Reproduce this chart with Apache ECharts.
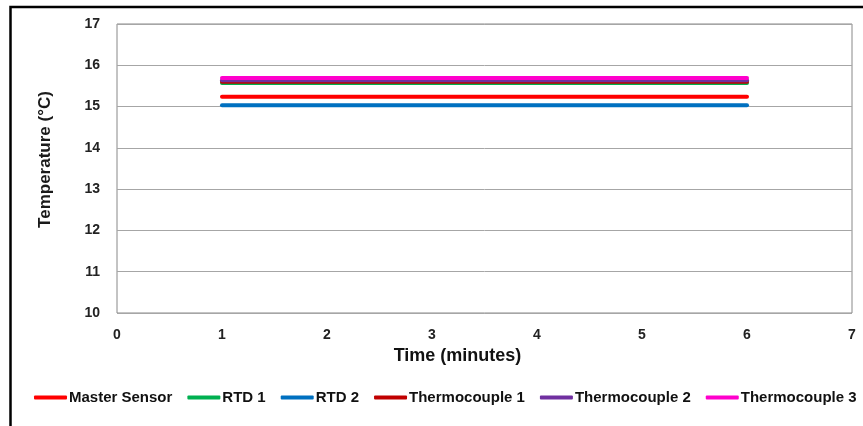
<!DOCTYPE html>
<html>
<head>
<meta charset="utf-8">
<script src="https://cdn.jsdelivr.net/npm/echarts@6/dist/echarts.min.js"></script>
<style>
  html, body { margin: 0; padding: 0; background: #fff; }
  #chart { width: 863px; height: 426px; }
</style>
</head>
<body>
<div id="chart"></div>
<script>
// readings at start and end of the run (minutes)
const times = [1, 6]
const seriesNames = ['Master Sensor', 'RTD 1', 'RTD 2', 'Thermocouple 1', 'Thermocouple 2', 'Thermocouple 3']
const masterSensor = [15.24, 15.24]
const rtd1 = [15.57, 15.57]
const rtd2 = [15.03, 15.03]
const thermocouple1 = [15.6, 15.6]
const thermocouple2 = [15.64, 15.64]
const thermocouple3 = [15.69, 15.69]
const colors = ['#ff0000', '#00b050', '#0070c0', '#c00000', '#7030a0', '#ff00cc']

const values = [masterSensor, rtd1, rtd2, thermocouple1, thermocouple2, thermocouple3]
const font = 'Liberation Sans'

const chart = echarts.init(document.getElementById('chart'))
chart.setOption({
  animation: false,
  color: colors,
  grid: {
    left: 117, right: 11, top: 24, bottom: 113,
    show: true, borderColor: '#888', borderWidth: 1
  },
  graphic: [{
    type: 'rect',
    shape: { x: 10.5, y: 7, width: 900, height: 500 },
    style: { fill: 'none', stroke: '#000', lineWidth: 2.5 },
    silent: true
  }],
  legend: {
    left: 34, top: 390, padding: 0,
    itemWidth: 33, itemHeight: 4, itemGap: 15,
    icon: 'roundRect',
    textStyle: { fontFamily: font, fontWeight: 'bold', fontSize: 15, color: '#111', padding: [0, 0, 0, -3] },
    data: seriesNames
  },
  xAxis: {
    type: 'value', min: 0, max: 7, interval: 1,
    name: 'Time (minutes)', nameLocation: 'middle', nameGap: 34,
    nameTextStyle: { fontFamily: font, fontWeight: 'bold', fontSize: 18, color: '#111', padding: [0, 54, 0, 0] },
    axisLine: { show: false },
    axisTick: { show: false },
    splitLine: { show: false },
    axisLabel: { margin: 15, fontFamily: font, fontWeight: 'bold', fontSize: 14, color: '#222' }
  },
  yAxis: {
    type: 'value', min: 10, max: 17, interval: 1,
    name: 'Temperature (°C)', nameLocation: 'middle', nameGap: 63,
    nameTextStyle: { fontFamily: font, fontWeight: 'bold', fontSize: 17, color: '#1a1a1a', padding: [0, 0, 0, 18] },
    axisLine: { show: false },
    axisTick: { show: false },
    splitLine: { lineStyle: { color: '#a6a6a6', width: 1 } },
    axisLabel: { margin: 17, fontFamily: font, fontWeight: 'bold', fontSize: 14, color: '#222' }
  },
  series: seriesNames.map((name, i) => ({
    name: name,
    type: 'line',
    showSymbol: false,
    lineStyle: { width: 4, cap: 'round' },
    data: times.map((t, j) => [t, values[i][j]])
  }))
})
</script>
</body>
</html>
